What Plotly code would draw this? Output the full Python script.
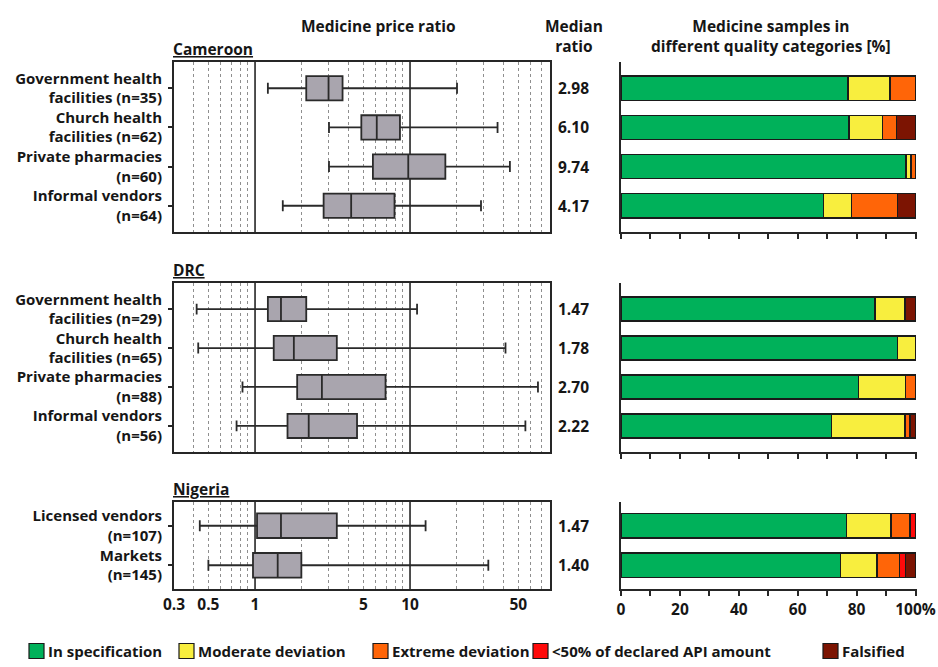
import numpy as np
import plotly.graph_objects as go

# ---------------- data ----------------
CAM_OUTLETS = ["Government health<br>facilities (n=35)", "Church health<br>facilities (n=62)",
               "Private pharmacies<br>(n=60)", "Informal vendors<br>(n=64)"]
CAM_LOW = [1.21, 3.00, 3.00, 1.51]
CAM_Q1 = [2.14, 4.85, 5.76, 2.77]
CAM_MEDIAN = [2.98, 6.10, 9.74, 4.17]
CAM_Q3 = [3.67, 8.61, 16.9, 7.94]
CAM_HIGH = [20.1, 36.7, 44.1, 28.7]
CAM_IN_SPEC = [77.1, 77.4, 96.7, 68.8]
CAM_MODERATE = [14.3, 11.3, 1.7, 9.4]
CAM_EXTREME = [8.6, 4.8, 1.6, 15.6]
CAM_BELOW_50 = [0, 0, 0, 0]
CAM_FALSIFIED = [0, 6.5, 0, 6.2]

DRC_OUTLETS = ["Government health<br>facilities (n=29)", "Church health<br>facilities (n=65)",
               "Private pharmacies<br>(n=88)", "Informal vendors<br>(n=56)"]
DRC_LOW = [0.42, 0.43, 0.83, 0.76]
DRC_Q1 = [1.21, 1.32, 1.87, 1.62]
DRC_MEDIAN = [1.47, 1.78, 2.70, 2.22]
DRC_Q3 = [2.14, 3.37, 6.95, 4.55]
DRC_HIGH = [11.1, 41.3, 66.9, 55.5]
DRC_IN_SPEC = [86.2, 93.8, 80.7, 71.4]
DRC_MODERATE = [10.3, 6.2, 15.9, 25.0]
DRC_EXTREME = [0, 0, 3.4, 1.8]
DRC_BELOW_50 = [0, 0, 0, 0]
DRC_FALSIFIED = [3.5, 0, 0, 1.8]

NGA_OUTLETS = ["Licensed vendors<br>(n=107)", "Markets<br>(n=145)"]
NGA_LOW = [0.44, 0.50]
NGA_Q1 = [1.03, 0.97]
NGA_MEDIAN = [1.47, 1.40]
NGA_Q3 = [3.37, 1.99]
NGA_HIGH = [12.6, 32.0]
NGA_IN_SPEC = [76.6, 74.5]
NGA_MODERATE = [15.0, 12.4]
NGA_EXTREME = [6.5, 7.6]
NGA_BELOW_50 = [1.9, 2.1]
NGA_FALSIFIED = [0, 3.4]

COUNTRIES = ["Cameroon", "DRC", "Nigeria"]
QUALITY_NAMES = ["In specification", "Moderate deviation", "Extreme deviation",
                 "<50% of declared API amount", "Falsified"]
QUALITY_COLORS = ["#00B15A", "#F8EE3E", "#FF6508", "#FF0A0A", "#7C1402"]

PRICE_TICKS = [0.3, 0.5, 1, 5, 10, 50]
PRICE_MINOR = [0.4, 0.5, 0.6, 0.7, 0.8, 0.9, 2, 3, 4, 5, 6, 7, 8, 9,
               20, 30, 40, 50, 60, 70]
PRICE_REF = [1, 10]
PCT_TICKS = list(range(0, 101, 10))

panels = [
    dict(outlets=CAM_OUTLETS, low=CAM_LOW, q1=CAM_Q1, med=CAM_MEDIAN, q3=CAM_Q3, high=CAM_HIGH,
         quality=[CAM_IN_SPEC, CAM_MODERATE, CAM_EXTREME, CAM_BELOW_50, CAM_FALSIFIED]),
    dict(outlets=DRC_OUTLETS, low=DRC_LOW, q1=DRC_Q1, med=DRC_MEDIAN, q3=DRC_Q3, high=DRC_HIGH,
         quality=[DRC_IN_SPEC, DRC_MODERATE, DRC_EXTREME, DRC_BELOW_50, DRC_FALSIFIED]),
    dict(outlets=NGA_OUTLETS, low=NGA_LOW, q1=NGA_Q1, med=NGA_MEDIAN, q3=NGA_Q3, high=NGA_HIGH,
         quality=[NGA_IN_SPEC, NGA_MODERATE, NGA_EXTREME, NGA_BELOW_50, NGA_FALSIFIED]),
]

# ---------------- layout geometry (pixels of a 938 x 667 canvas) ----------------
W, H = 938, 667
def px(x):
    return x / W
def py(y):
    return 1 - y / H

LEFT_DOM = [px(174), px(550)]
RIGHT_DOM = [px(621), px(917)]
ROW_TOPS = [62, 283, 502]
ROW_BOTTOMS = [232, 452, 589]
Y_RANGES = [[3.67, -0.67], [3.67, -0.67], [1.6, -0.6]]
MARK_WIDTH = 0.62
FONT = "Open Sans"
FS = 15.5
LABEL_FS = 15
INK = "#161616"
AXIS_INK = "#262626"

fig = go.Figure()
layout = dict(
    width=W, height=H,
    margin=dict(l=0, r=0, t=0, b=0, autoexpand=False),
    paper_bgcolor="white", plot_bgcolor="white",
    font=dict(family=FONT, size=FS, color=INK, weight="bold"),
    barmode="stack", showlegend=False,
    shapes=[], annotations=[],
)

for i, p in enumerate(panels):
    n = len(p["outlets"])
    rows = list(range(n))
    lx = "x" if i == 0 else f"x{i + 1}"
    ly = "y" if i == 0 else f"y{i + 1}"
    rx, ry = f"x{i + 4}", f"y{i + 4}"
    last = i == len(panels) - 1
    dom = [py(ROW_BOTTOMS[i]), py(ROW_TOPS[i])]

    # price-ratio box plot
    fig.add_trace(go.Box(
        orientation="h", y=rows,
        lowerfence=p["low"], q1=p["q1"], median=p["med"], q3=p["q3"], upperfence=p["high"],
        fillcolor="#A9A5AE", line=dict(color="#2a2a2a", width=1.8),
        whiskerwidth=0.45, width=MARK_WIDTH, boxpoints=False,
        xaxis=lx, yaxis=ly, hoverinfo="skip",
    ))

    # quality category stacked bars
    for k, vals in enumerate(p["quality"]):
        fig.add_trace(go.Bar(
            orientation="h", y=rows, x=[v if v > 0 else None for v in vals],
            marker=dict(color=QUALITY_COLORS[k], line=dict(color="#1a1a1a", width=1.5)),
            width=MARK_WIDTH, name=QUALITY_NAMES[k],
            xaxis=rx, yaxis=ry, hoverinfo="skip",
        ))

    layout["xaxis" if i == 0 else f"xaxis{i + 1}"] = dict(
        type="log", domain=LEFT_DOM, anchor=ly,
        range=[np.log10(0.3), np.log10(80)],
        tickvals=PRICE_TICKS, ticktext=[f"{t:g}" for t in PRICE_TICKS],
        showticklabels=last, ticks="", showgrid=False, zeroline=False,
        showline=True, mirror=True, linecolor=AXIS_INK, linewidth=2,
        minor=dict(tickvals=PRICE_MINOR, showgrid=True, griddash="dot",
                   gridcolor="#8f8f8f", gridwidth=1, ticks=""),
        tickfont=dict(size=FS),
    )
    layout["yaxis" if i == 0 else f"yaxis{i + 1}"] = dict(
        domain=dom, anchor=lx, range=Y_RANGES[i],
        tickvals=rows, ticktext=p["outlets"], ticks="outside", ticklen=4,
        tickwidth=1.5, tickcolor=AXIS_INK, ticklabelstandoff=3,
        showgrid=False, zeroline=False,
        showline=True, mirror=True, linecolor=AXIS_INK, linewidth=2,
        tickfont=dict(size=LABEL_FS),
    )
    layout[f"xaxis{i + 4}"] = dict(
        domain=RIGHT_DOM, anchor=ry, range=[0, 100.5],
        tickvals=PCT_TICKS,
        ticktext=[("100%" if t == 100 else str(t)) if t % 20 == 0 else "" for t in PCT_TICKS],
        showticklabels=last, ticks="outside", ticklen=5, tickwidth=1.5, tickcolor=AXIS_INK,
        showgrid=False, zeroline=False, showline=True, linecolor=AXIS_INK, linewidth=2,
        tickfont=dict(size=FS),
    )
    layout[f"yaxis{i + 4}"] = dict(
        domain=dom, anchor=rx, range=Y_RANGES[i], showticklabels=False, ticks="",
        showgrid=False, zeroline=False, showline=True, linecolor=AXIS_INK, linewidth=2,
    )

    # solid reference lines at ratio 1 and 10
    for ref in PRICE_REF:
        layout["shapes"].append(dict(
            type="line", xref=lx, yref=f"{ly} domain",
            x0=ref, x1=ref, y0=0, y1=1, layer="below",
            line=dict(color=AXIS_INK, width=1.6),
        ))

    # country heading
    layout["annotations"].append(dict(
        text=f"<b><u>{COUNTRIES[i]}</u></b>", xref="paper", yref="paper",
        x=px(171), y=py(ROW_TOPS[i] - 13), xanchor="left", yanchor="middle",
        showarrow=False, font=dict(size=FS),
    ))

    # median ratio column
    for r, m in zip(rows, p["med"]):
        layout["annotations"].append(dict(
            text=f"<b>{m:.2f}</b>", xref="paper", yref=ly,
            x=px(573), y=r, xanchor="center", yanchor="middle",
            showarrow=False, font=dict(size=FS),
        ))

# column headings
for txt, xc in [("Medicine price ratio", 378), ("Median<br>ratio", 574),
                ("Medicine samples in<br>different quality categories [%]", 771)]:
    layout["annotations"].append(dict(
        text=f"<b>{txt}</b>", xref="paper", yref="paper", x=px(xc), y=py(13),
        xanchor="center", yanchor="top", showarrow=False, font=dict(size=FS),
    ))

# quality category key along the bottom
LEGEND_X = [29, 179, 373, 533, 823]
for name, color, x0 in zip(QUALITY_NAMES, QUALITY_COLORS, LEGEND_X):
    layout["shapes"].append(dict(
        type="rect", xref="paper", yref="paper",
        x0=px(x0), x1=px(x0 + 15), y0=py(658.5), y1=py(643.5),
        fillcolor=color, line=dict(color="#1a1a1a", width=1.2),
    ))
    layout["annotations"].append(dict(
        text=f"<b>{name.replace('<', '&lt;')}</b>", xref="paper", yref="paper",
        x=px(x0 + 17), y=py(651), xanchor="left", yanchor="middle",
        showarrow=False, font=dict(size=15),
    ))

fig.update_layout(**layout)
fig.write_html("out.html")
